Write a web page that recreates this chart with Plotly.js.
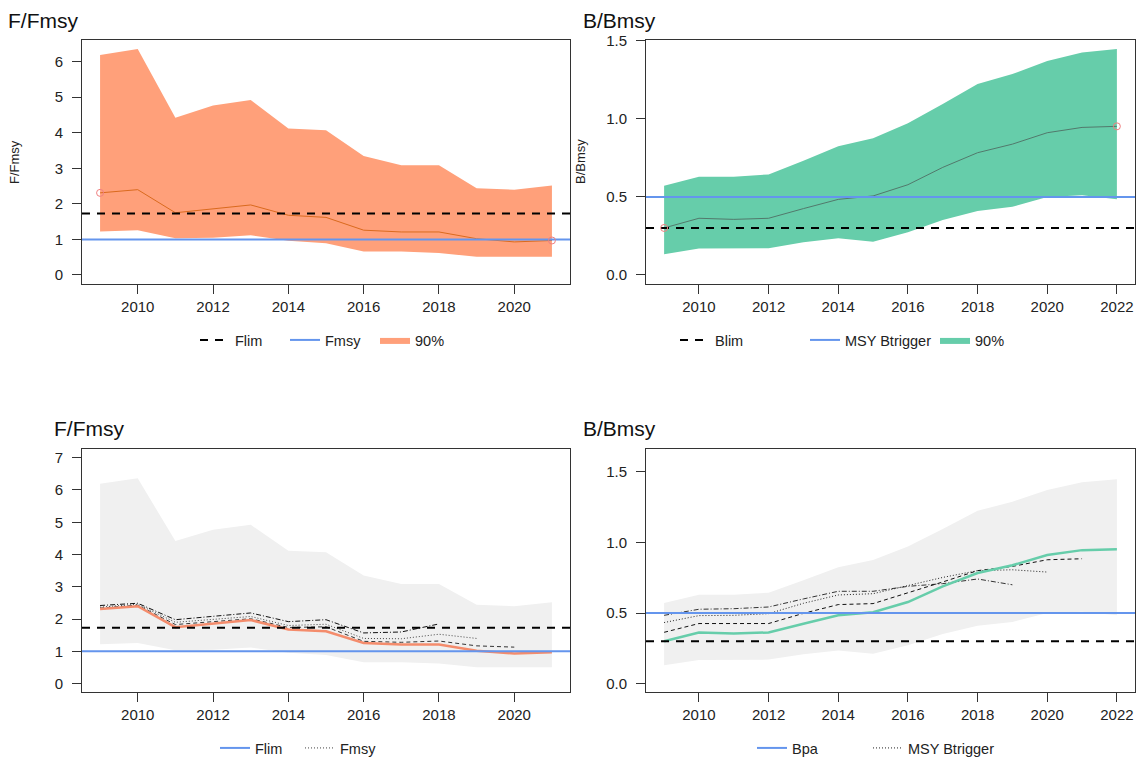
<!DOCTYPE html>
<html>
<head>
<meta charset="utf-8">
<script src="https://cdn.plot.ly/plotly-3.0.1.min.js"></script>
<style>
  html, body { margin: 0; padding: 0; background: #fff; }
  #chart { width: 1138px; height: 763px; }
</style>
</head>
<body>
<div id="chart"></div>
<script>
// ---- Fishing mortality relative to Fmsy (2009-2021) ----
const F_YEARS  = [2009, 2010, 2011, 2012, 2013, 2014, 2015, 2016, 2017, 2018, 2019, 2020, 2021];
const F_MEDIAN = [2.31, 2.40, 1.75, 1.85, 1.97, 1.68, 1.62, 1.26, 1.21, 1.21, 1.02, 0.93, 0.97];
const F_UPPER  = [6.19, 6.36, 4.42, 4.77, 4.92, 4.12, 4.07, 3.35, 3.09, 3.09, 2.44, 2.40, 2.52];
const F_LOWER  = [1.22, 1.26, 1.03, 1.05, 1.12, 0.96, 0.89, 0.66, 0.66, 0.62, 0.51, 0.51, 0.51];

// retrospective peels of F/Fmsy
const F_RETRO_2018 = [2.42, 2.49, 1.98, 2.08, 2.19, 1.92, 1.98, 1.57, 1.60, 1.85];
const F_RETRO_2019 = [2.37, 2.46, 1.90, 1.98, 2.08, 1.80, 1.84, 1.40, 1.39, 1.53, 1.40];
const F_RETRO_2020 = [2.34, 2.43, 1.83, 1.92, 2.01, 1.74, 1.76, 1.31, 1.28, 1.32, 1.17, 1.13];

// ---- Biomass relative to Bmsy (2009-2022) ----
const B_YEARS  = [2009, 2010, 2011, 2012, 2013, 2014, 2015, 2016, 2017, 2018, 2019, 2020, 2021, 2022];
const B_MEDIAN = [0.301, 0.363, 0.356, 0.363, 0.425, 0.484, 0.506, 0.578, 0.689, 0.783, 0.838, 0.911, 0.945, 0.952];
const B_UPPER  = [0.572, 0.629, 0.629, 0.644, 0.732, 0.824, 0.875, 0.971, 1.095, 1.223, 1.287, 1.370, 1.425, 1.447];
const B_LOWER  = [0.132, 0.169, 0.171, 0.171, 0.209, 0.235, 0.213, 0.273, 0.352, 0.410, 0.437, 0.500, 0.510, 0.485];

// retrospective peels of B/Bmsy
const B_RETRO_2019 = [0.484, 0.527, 0.531, 0.543, 0.600, 0.654, 0.654, 0.689, 0.708, 0.741, 0.700];
const B_RETRO_2020 = [0.433, 0.482, 0.484, 0.496, 0.569, 0.628, 0.637, 0.696, 0.752, 0.800, 0.806, 0.790];
const B_RETRO_2021 = [0.364, 0.426, 0.426, 0.426, 0.498, 0.560, 0.567, 0.642, 0.720, 0.800, 0.830, 0.877, 0.884];

// reference points
const FLIM = 1.73;
const FMSY = 1.0;
const BLIM = 0.30;
const MSY_BTRIGGER = 0.50;

// axis ticks
const F_XTICKS = [2010, 2012, 2014, 2016, 2018, 2020];
const B_XTICKS = [2010, 2012, 2014, 2016, 2018, 2020, 2022];
const F_YTICKS_TOP = [0, 1, 2, 3, 4, 5, 6];
const F_YTICKS_BOTTOM = [0, 1, 2, 3, 4, 5, 6, 7];
const B_YTICKS = [0, 0.5, 1.0, 1.5];
const B_YTICKTEXT = ['0.0', '0.5', '1.0', '1.5'];

// ---- page geometry (pixels) ----
const W = 1138, H = 763;
const px = (a, b) => [a / W, b / W];
const py = (top, bottom) => [1 - bottom / H, 1 - top / H];

const FONT = 'Liberation Sans, Arial, Helvetica, sans-serif';
const INK = '#222222';
const BLUE = '#6495ED';
const SALMON = '#FFA07A';
const AQUA = '#66CDAA';
const GREY_BAND = '#F0F0F0';

const F_XRANGE = [2008.52, 2021.48];
const B_XRANGE = [2008.48, 2022.52];

function band(years, lower, upper, color, xa, ya, name, legend, show) {
  return {
    x: years.concat(years.slice().reverse()),
    y: upper.concat(lower.slice().reverse()),
    type: 'scatter', mode: 'lines', fill: 'toself', fillcolor: color,
    line: { width: 0, color: color }, hoverinfo: 'skip',
    xaxis: xa, yaxis: ya, name: name, legend: legend, showlegend: show, legendrank: 3
  };
}

function hline(range, value, color, dash, xa, ya, name, legend, show, rank) {
  return {
    x: range, y: range.map(() => value),
    type: 'scatter', mode: 'lines', cliponaxis: true,
    line: { color: color, width: 2, dash: dash },
    xaxis: xa, yaxis: ya, name: name, legend: legend, showlegend: show, legendrank: rank
  };
}

function series(years, values, color, width, dash, xa, ya, name, legend, show, rank) {
  return {
    x: years.slice(0, values.length), y: values,
    type: 'scatter', mode: 'lines',
    line: { color: color, width: width, dash: dash },
    xaxis: xa, yaxis: ya, name: name, legend: legend, showlegend: !!show, legendrank: rank || 10
  };
}

function endpoints(years, values, xa, ya) {
  const n = values.length;
  return {
    x: [years[0], years[n - 1]], y: [values[0], values[n - 1]],
    type: 'scatter', mode: 'markers',
    marker: { symbol: 'circle-open', size: 7, color: '#F08080', line: { width: 1, color: '#F08080' } },
    xaxis: xa, yaxis: ya, showlegend: false, hoverinfo: 'skip'
  };
}

const DASH_REF = '8px,7px';
const DASH_DOTDASH = '5px,2px,1px,2px';
const DASH_DOT = '1px,2px';
const DASH_DASH = '4px,3px';

const traces = [
  // top-left: F/Fmsy with 90% interval
  band(F_YEARS, F_LOWER, F_UPPER, SALMON, 'x', 'y', '90%', 'legend', true),
  series(F_YEARS, F_MEDIAN, '#DA6A1E', 1, 'solid', 'x', 'y', 'median', 'legend', false),
  hline(F_XRANGE, FLIM, '#000000', DASH_REF, 'x', 'y', 'Flim', 'legend', true, 1),
  hline(F_XRANGE, FMSY, BLUE, 'solid', 'x', 'y', 'Fmsy', 'legend', true, 2),
  endpoints(F_YEARS, F_MEDIAN, 'x', 'y'),

  // top-right: B/Bmsy with 90% interval
  band(B_YEARS, B_LOWER, B_UPPER, AQUA, 'x2', 'y2', '90%', 'legend2', true),
  series(B_YEARS, B_MEDIAN, '#52796C', 1, 'solid', 'x2', 'y2', 'median', 'legend2', false),
  hline(B_XRANGE, BLIM, '#000000', DASH_REF, 'x2', 'y2', 'Blim', 'legend2', true, 1),
  hline(B_XRANGE, MSY_BTRIGGER, BLUE, 'solid', 'x2', 'y2', 'MSY Btrigger', 'legend2', true, 2),
  endpoints(B_YEARS, B_MEDIAN, 'x2', 'y2'),

  // bottom-left: F/Fmsy retrospective
  band(F_YEARS, F_LOWER, F_UPPER, GREY_BAND, 'x3', 'y3', '90%', 'legend3', false),
  series(F_YEARS, F_RETRO_2018, '#111111', 1, DASH_DOTDASH, 'x3', 'y3', '2018', 'legend3', false),
  series(F_YEARS, F_RETRO_2019, '#444444', 1, DASH_DOT, 'x3', 'y3', 'Fmsy', 'legend3', true, 2),
  series(F_YEARS, F_RETRO_2020, '#333333', 1, DASH_DASH, 'x3', 'y3', '2020', 'legend3', false),
  series(F_YEARS, F_MEDIAN, '#F48C6C', 2.5, 'solid', 'x3', 'y3', 'F/Fmsy', 'legend3', false),
  hline(F_XRANGE, FLIM, '#000000', DASH_REF, 'x3', 'y3', 'Flim ref', 'legend3', false, 5),
  hline(F_XRANGE, FMSY, BLUE, 'solid', 'x3', 'y3', 'Flim', 'legend3', true, 1),

  // bottom-right: B/Bmsy retrospective
  band(B_YEARS, B_LOWER, B_UPPER, GREY_BAND, 'x4', 'y4', '90%', 'legend4', false),
  series(B_YEARS, B_RETRO_2019, '#333333', 1, DASH_DOTDASH, 'x4', 'y4', '2019', 'legend4', false),
  series(B_YEARS, B_RETRO_2020, '#222222', 1, DASH_DOT, 'x4', 'y4', 'MSY Btrigger', 'legend5', true, 2),
  series(B_YEARS, B_RETRO_2021, '#111111', 1, DASH_DASH, 'x4', 'y4', '2021', 'legend4', false),
  series(B_YEARS, B_MEDIAN, AQUA, 2.5, 'solid', 'x4', 'y4', 'B/Bmsy', 'legend4', false),
  hline(B_XRANGE, BLIM, '#000000', DASH_REF, 'x4', 'y4', 'Blim', 'legend4', false, 5),
  hline(B_XRANGE, MSY_BTRIGGER, BLUE, 'solid', 'x4', 'y4', 'Bpa', 'legend4', true, 1)
];

function xaxis(domain, range, ticks, anchor) {
  return {
    domain: domain, range: range, anchor: anchor,
    tickmode: 'array', tickvals: ticks, ticktext: ticks.map(String),
    ticks: 'outside', ticklen: 9, tickwidth: 1, tickcolor: '#333',
    showline: true, mirror: true, linecolor: '#333', linewidth: 1,
    showgrid: false, zeroline: false, fixedrange: true, automargin: false,
    tickfont: { family: FONT, size: 15, color: INK }
  };
}
function yaxis(domain, range, ticks, text, anchor) {
  return {
    domain: domain, range: range, anchor: anchor,
    tickmode: 'array', tickvals: ticks, ticktext: text,
    ticks: 'outside', ticklen: 9, tickwidth: 1, tickcolor: '#333',
    showline: true, mirror: true, linecolor: '#333', linewidth: 1,
    showgrid: false, zeroline: false, fixedrange: true, automargin: false, ticklabelstandoff: 6,
    tickfont: { family: FONT, size: 15, color: INK }
  };
}

function legendAt(xPix, yPix, entry) {
  return {
    orientation: 'h', x: xPix / W, xanchor: 'left', y: 1 - yPix / H, yanchor: 'middle',
    entrywidth: entry, entrywidthmode: 'pixels', itemwidth: 30,
    bgcolor: 'rgba(0,0,0,0)', borderwidth: 0, traceorder: 'normal',
    font: { family: FONT, size: 14.5, color: INK }, itemclick: false, itemdoubleclick: false
  };
}

function title(text, xPix, yPix) {
  return {
    text: text, xref: 'paper', yref: 'paper', x: xPix / W, y: 1 - yPix / H,
    xanchor: 'left', yanchor: 'middle', showarrow: false,
    font: { family: FONT, size: 21, color: '#111' }
  };
}
function ytitle(text, xPix, yPix) {
  return {
    text: text, xref: 'paper', yref: 'paper', x: xPix / W, y: 1 - yPix / H,
    xanchor: 'center', yanchor: 'middle', showarrow: false, textangle: -90,
    font: { family: FONT, size: 13, color: INK }
  };
}

const layout = {
  width: W, height: H,
  margin: { l: 0, r: 0, t: 0, b: 0, autoexpand: false },
  paper_bgcolor: '#ffffff', plot_bgcolor: '#ffffff',
  font: { family: FONT, color: INK },
  xaxis:  xaxis(px(82, 570),  F_XRANGE, F_XTICKS, 'y'),
  yaxis:  yaxis(py(40, 284),  [-0.254, 6.61], F_YTICKS_TOP, F_YTICKS_TOP.map(String), 'x'),
  xaxis2: xaxis(px(646, 1135), B_XRANGE, B_XTICKS, 'y2'),
  yaxis2: yaxis(py(40, 284),  [-0.058, 1.505], B_YTICKS, B_YTICKTEXT, 'x2'),
  xaxis3: xaxis(px(82, 570),  F_XRANGE, F_XTICKS, 'y3'),
  yaxis3: yaxis(py(449, 692), [-0.26, 7.27], F_YTICKS_BOTTOM, F_YTICKS_BOTTOM.map(String), 'x3'),
  xaxis4: xaxis(px(646, 1135), B_XRANGE, B_XTICKS, 'y4'),
  yaxis4: yaxis(py(449, 692), [-0.058, 1.66], B_YTICKS, B_YTICKTEXT, 'x4'),
  legend:  legendAt(195, 340, 45),
  legend2: legendAt(675, 340, 85),
  legend3: legendAt(215, 748, 40),
  legend4: legendAt(752, 748, 60),
  legend5: legendAt(868, 748, 100),
  annotations: [
    title('F/Fmsy', 6, 20),
    title('B/Bmsy', 581, 20),
    title('F/Fmsy', 52, 428),
    title('B/Bmsy', 581, 428),
    ytitle('F/Fmsy', 15, 162),
    ytitle('B/Bmsy', 581, 162)
  ],
  showlegend: true
};

Plotly.newPlot('chart', traces, layout, { staticPlot: true, displayModeBar: false });
</script>
</body>
</html>
